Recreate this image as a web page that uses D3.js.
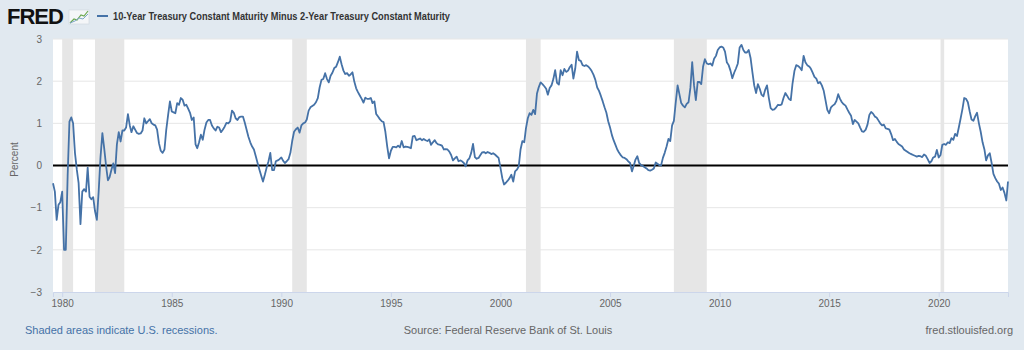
<!DOCTYPE html>
<html>
<head>
<meta charset="utf-8">
<script src="https://cdn.jsdelivr.net/npm/d3@7"></script>
<style>
  html, body { margin: 0; padding: 0; background: #e1e9f0; }
  svg { display: block; font-family: "Liberation Sans", Arial, sans-serif; }
</style>
</head>
<body>
<div id="chart"></div>
<script>
// 10y - 2y spread, monthly, first value = Aug 1979
const firstMonth = [1979, 7];
const spread = [
  -0.42, -0.62, -1.29, -0.93, -0.87,
  -0.62, -2.00, -2.00, -0.25, 1.04, 1.14, 1.00, 0.30, -0.10, -0.42, -1.39, -0.62,
  -0.56, -0.62, -0.05, -0.74, -0.80, -0.75, -1.08, -1.29, -0.60, 0.20, 0.77, 0.41,
  0.00, -0.35, -0.28, -0.10, 0.05, -0.18, 0.50, 0.79, 0.57, 0.83, 0.83, 0.90,
  1.22, 0.95, 0.79, 0.93, 0.85, 0.77, 0.75, 0.76, 0.83, 1.12, 1.00, 1.05,
  1.10, 1.00, 0.97, 0.95, 0.85, 0.53, 0.35, 0.30, 0.38, 0.85, 1.20, 1.52,
  1.28, 1.26, 1.24, 1.48, 1.44, 1.60, 1.56, 1.42, 1.44, 1.35, 1.25, 1.08,
  1.14, 0.50, 0.41, 0.55, 0.73, 0.61, 0.85, 1.02, 1.08, 1.08, 0.95, 0.88,
  0.83, 0.92, 0.90, 0.79, 0.85, 0.92, 1.01, 1.00, 1.05, 1.30, 1.25, 1.12,
  1.08, 1.15, 1.16, 1.16, 1.02, 0.85, 0.68, 0.55, 0.45, 0.38, 0.22, 0.06,
  -0.10, -0.25, -0.38, -0.22, -0.05, 0.10, 0.30, -0.11, -0.11, 0.10, 0.12, 0.15,
  0.19, 0.11, 0.06, 0.10, 0.15, 0.30, 0.58, 0.80, 0.86, 0.90, 0.78, 0.95,
  1.00, 1.02, 1.09, 1.30, 1.38, 1.41, 1.44, 1.50, 1.60, 1.85, 2.03, 2.05,
  2.19, 2.05, 1.97, 2.13, 2.20, 2.31, 2.34, 2.45, 2.58, 2.40, 2.25, 2.17,
  2.19, 2.13, 2.16, 2.21, 1.99, 1.83, 1.74, 1.66, 1.58, 1.49, 1.61, 1.58,
  1.58, 1.60, 1.48, 1.52, 1.22, 1.16, 1.10, 1.05, 1.03, 0.80, 0.45, 0.17,
  0.35, 0.44, 0.44, 0.43, 0.47, 0.43, 0.58, 0.43, 0.45, 0.44, 0.43, 0.41,
  0.69, 0.70, 0.60, 0.62, 0.64, 0.60, 0.63, 0.60, 0.58, 0.62, 0.49, 0.55,
  0.60, 0.53, 0.50, 0.49, 0.47, 0.38, 0.39, 0.38, 0.33, 0.25, 0.12, 0.17,
  0.21, 0.10, 0.12, 0.10, 0.06, -0.02, 0.12, 0.17, 0.30, 0.51, 0.20, 0.16,
  0.18, 0.25, 0.31, 0.32, 0.29, 0.32, 0.30, 0.27, 0.29, 0.26, 0.22, 0.18,
  -0.05, -0.30, -0.45, -0.41, -0.36, -0.30, -0.22, -0.38, -0.14, -0.10, -0.02, 0.38,
  0.58, 0.55, 0.88, 1.12, 1.24, 1.20, 1.32, 1.22, 1.71, 1.86, 1.97, 1.93,
  1.88, 1.82, 1.68, 1.84, 1.90, 2.05, 2.26, 1.96, 1.92, 2.26, 2.14, 2.29,
  2.22, 2.25, 2.33, 2.39, 2.06, 2.30, 2.70, 2.50, 2.48, 2.38, 2.36, 2.38,
  2.35, 2.30, 2.24, 2.15, 2.03, 1.85, 1.77, 1.65, 1.52, 1.38, 1.25, 1.05,
  0.90, 0.72, 0.60, 0.49, 0.38, 0.30, 0.24, 0.19, 0.18, 0.15, 0.10, 0.06,
  -0.14, 0.00, 0.14, 0.22, 0.06, 0.01, -0.01, -0.04, -0.07, -0.11, -0.12, -0.10,
  -0.07, 0.07, 0.04, 0.01, 0.00, 0.18, 0.30, 0.45, 0.63, 0.58, 0.95, 1.06,
  1.50, 1.90, 1.70, 1.48, 1.42, 1.38, 1.46, 1.50, 1.84, 2.45, 1.90, 1.55,
  1.98, 1.98, 1.93, 2.35, 2.52, 2.42, 2.40, 2.42, 2.37, 2.53, 2.60, 2.74,
  2.80, 2.82, 2.80, 2.70, 2.45, 2.38, 2.25, 2.07, 2.20, 2.30, 2.42, 2.80,
  2.86, 2.74, 2.68, 2.68, 2.74, 2.55, 2.22, 1.90, 1.72, 1.93, 1.82, 1.68,
  1.64, 1.80, 1.90, 1.60, 1.36, 1.32, 1.33, 1.38, 1.44, 1.43, 1.45, 1.60,
  1.72, 1.65, 1.58, 1.55, 1.95, 2.24, 2.38, 2.36, 2.32, 2.26, 2.60, 2.45,
  2.38, 2.35, 2.30, 2.20, 2.10, 2.06, 1.95, 1.98, 1.90, 1.78, 1.55, 1.32,
  1.24, 1.38, 1.42, 1.45, 1.53, 1.69, 1.58, 1.50, 1.45, 1.42, 1.33, 1.25,
  1.18, 0.98, 1.08, 1.04, 1.00, 0.90, 0.81, 0.80, 0.85, 0.97, 1.20, 1.27,
  1.23, 1.16, 1.14, 1.07, 1.00, 0.95, 0.97, 0.88, 0.87, 0.85, 0.74, 0.60,
  0.63, 0.56, 0.51, 0.48, 0.45, 0.38, 0.35, 0.32, 0.29, 0.27, 0.25, 0.23,
  0.21, 0.23, 0.22, 0.20, 0.26, 0.23, 0.15, 0.06, 0.10, 0.19, 0.21, 0.37,
  0.19, 0.25, 0.49, 0.51, 0.49, 0.55, 0.53, 0.65, 0.61, 0.75, 0.70, 0.90,
  1.12, 1.35, 1.60, 1.58, 1.50, 1.28, 1.09, 1.06, 1.17, 1.25, 1.00, 0.80,
  0.55, 0.38, 0.12, 0.24, 0.29, 0.06, -0.20, -0.30, -0.38, -0.43, -0.58, -0.52,
  -0.65, -0.83, -0.38
];

// NBER recessions (start, end)
const recessions = [
  ["1980-01-01", "1980-07-01"],
  ["1981-07-01", "1982-11-01"],
  ["1990-07-01", "1991-03-01"],
  ["2001-03-01", "2001-11-01"],
  ["2007-12-01", "2009-06-01"],
  ["2020-02-01", "2020-04-01"]
];

const yTicks = [-3, -2, -1, 0, 1, 2, 3];
const xTickYears = [1980, 1985, 1990, 1995, 2000, 2005, 2010, 2015, 2020];

const titleText = "10-Year Treasury Constant Maturity Minus 2-Year Treasury Constant Maturity";
const yLabel = "Percent";
const noteText = "Shaded areas indicate U.S. recessions.";
const sourceText = "Source: Federal Reserve Bank of St. Louis";
const siteText = "fred.stlouisfed.org";

const width = 1024, height = 350;
const plot = { left: 53, right: 1008, top: 39, bottom: 292 };

const data = spread.map((v, i) => ({
  date: new Date(firstMonth[0], firstMonth[1] + i, 1),
  value: v
}));

const svg = d3.select('#chart')
  .append('svg')
  .attr('width', width)
  .attr('height', height);

svg.append('rect')
  .attr('width', width)
  .attr('height', height)
  .attr('fill', '#e1e9f0');

const x = d3.scaleTime()
  .domain(d3.extent(data, d => d.date))
  .range([plot.left, plot.right]);

const y = d3.scaleLinear()
  .domain([-3, 3])
  .range([plot.bottom, plot.top]);

// plot background
svg.append('rect')
  .attr('x', plot.left)
  .attr('y', plot.top)
  .attr('width', plot.right - plot.left)
  .attr('height', plot.bottom - plot.top)
  .attr('fill', '#ffffff');

// recession bands
const parse = d3.timeParse('%Y-%m-%d');
svg.append('g')
  .selectAll('rect')
  .data(recessions)
  .enter().append('rect')
  .attr('x', d => x(parse(d[0])))
  .attr('y', plot.top)
  .attr('width', d => x(parse(d[1])) - x(parse(d[0])))
  .attr('height', plot.bottom - plot.top)
  .attr('fill', '#e6e6e6');

// horizontal grid
svg.append('g')
  .selectAll('line')
  .data(yTicks.filter(t => t !== 0 && t !== -3))
  .enter().append('line')
  .attr('x1', plot.left)
  .attr('x2', plot.right)
  .attr('y1', d => y(d))
  .attr('y2', d => y(d))
  .attr('stroke', '#e6e6e6')
  .attr('stroke-width', 1);

// y axis labels
const yAxis = d3.axisLeft(y)
  .tickValues(yTicks)
  .tickSize(0)
  .tickPadding(11)
  .tickFormat(d3.format('d'));

svg.append('g')
  .attr('transform', `translate(${plot.left},0)`)
  .call(yAxis)
  .call(g => g.select('.domain').remove())
  .call(g => g.selectAll('text')
    .attr('fill', '#666666')
    .style('font-size', '10px')
    .style('font-family', '"Liberation Sans", Arial, sans-serif'));

svg.append('text')
  .attr('transform', `translate(18,${(plot.top + plot.bottom) / 2 - 6}) rotate(-90)`)
  .attr('text-anchor', 'middle')
  .attr('fill', '#666666')
  .style('font-size', '10px')
  .text(yLabel);

// x axis
const xAxis = d3.axisBottom(x)
  .tickValues(xTickYears.map(yr => new Date(yr, 0, 1)))
  .tickSize(5)
  .tickPadding(3)
  .tickFormat(d3.timeFormat('%Y'));

svg.append('g')
  .attr('transform', `translate(0,${plot.bottom})`)
  .call(xAxis)
  .call(g => g.select('.domain')
    .attr('stroke', '#ccd6eb'))
  .call(g => g.selectAll('.tick line').attr('stroke', '#ccd6eb'))
  .call(g => g.selectAll('text')
    .attr('fill', '#666666')
    .style('font-size', '10px')
    .style('font-family', '"Liberation Sans", Arial, sans-serif'));

// zero line
svg.append('line')
  .attr('x1', plot.left)
  .attr('x2', plot.right)
  .attr('y1', y(0))
  .attr('y2', y(0))
  .attr('stroke', '#000000')
  .attr('stroke-width', 2);

// series line
const line = d3.line()
  .x(d => x(d.date))
  .y(d => y(d.value));

svg.append('path')
  .datum(data)
  .attr('d', line)
  .attr('fill', 'none')
  .attr('stroke', '#4572a7')
  .attr('stroke-width', 1.8)
  .attr('stroke-linejoin', 'round');

// header: logo + legend
svg.append('text')
  .attr('x', 7)
  .attr('y', 24)
  .attr('fill', '#111111')
  .style('font-size', '22px')
  .style('font-weight', 'bold')
  .style('letter-spacing', '-1px')
  .text('FRED');

const icon = svg.append('g').attr('transform', 'translate(69,10)');
icon.append('rect')
  .attr('width', 20).attr('height', 14)
  .attr('fill', '#f4f6f8').attr('stroke', '#cdd6de').attr('stroke-width', 0.6);
icon.append('path')
  .attr('d', 'M1,13 L5,9 L8,10 L12,5 L15,6 L19,1')
  .attr('fill', 'none').attr('stroke', '#6aa84f').attr('stroke-width', 1.2);
icon.append('path')
  .attr('d', 'M1,13 L6,11 L10,8 L14,9 L19,4')
  .attr('fill', 'none').attr('stroke', '#7fa7c9').attr('stroke-width', 1);

svg.append('line')
  .attr('x1', 97).attr('x2', 108)
  .attr('y1', 16).attr('y2', 16)
  .attr('stroke', '#4572a7').attr('stroke-width', 2);

svg.append('text')
  .attr('x', 113)
  .attr('y', 19.5)
  .attr('fill', '#333333')
  .style('font-size', '10px')
  .style('font-weight', 'bold')
  .attr('textLength', 337)
  .attr('lengthAdjust', 'spacingAndGlyphs')
  .text(titleText);

// footer
svg.append('text')
  .attr('x', 25).attr('y', 334)
  .attr('fill', '#4572a7')
  .style('font-size', '11px')
  .text(noteText);

svg.append('text')
  .attr('x', 508).attr('y', 334)
  .attr('text-anchor', 'middle')
  .attr('fill', '#666666')
  .style('font-size', '11px')
  .text(sourceText);

svg.append('text')
  .attr('x', 1013).attr('y', 334)
  .attr('text-anchor', 'end')
  .attr('fill', '#666666')
  .style('font-size', '11px')
  .text(siteText);
</script>
</body>
</html>
